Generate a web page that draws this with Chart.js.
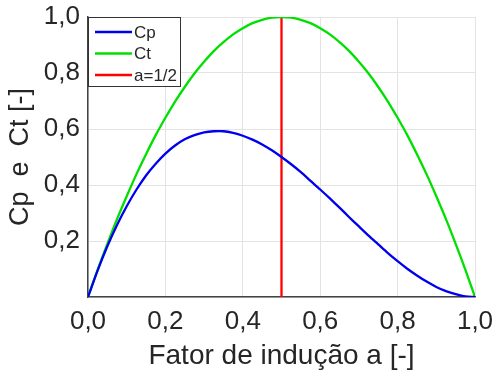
<!DOCTYPE html>
<html>
<head>
<meta charset="utf-8">
<script src="https://cdn.jsdelivr.net/npm/chart.js@4.4.1/dist/chart.umd.min.js"></script>
<style>
  html, body { margin: 0; padding: 0; background: #fff; }
  #wrap { width: 495px; height: 373px; }
</style>
</head>
<body>
<div id="wrap"><canvas id="cpct" width="495" height="373"></canvas></div>
<script>
// values
const aValues = [0, 0.025, 0.05, 0.075, 0.1, 0.125, 0.15, 0.175, 0.2, 0.225, 0.25,
  0.275, 0.3, 0.325, 0.35, 0.375, 0.4, 0.425, 0.45, 0.475, 0.5,
  0.525, 0.55, 0.575, 0.6, 0.625, 0.65, 0.675, 0.7, 0.725, 0.75,
  0.775, 0.8, 0.825, 0.85, 0.875, 0.9, 0.925, 0.95, 0.975, 1];
const cpValues = [0, 0.095, 0.181, 0.257, 0.324, 0.383, 0.434, 0.476, 0.512, 0.541, 0.563,
  0.578, 0.588, 0.592, 0.592, 0.586, 0.576, 0.562, 0.545, 0.524, 0.5,
  0.474, 0.446, 0.415, 0.384, 0.352, 0.319, 0.285, 0.252, 0.219, 0.188,
  0.157, 0.128, 0.101, 0.077, 0.055, 0.036, 0.021, 0.01, 0.002, 0];
const ctValues = [0, 0.098, 0.19, 0.278, 0.36, 0.438, 0.51, 0.578, 0.64, 0.698, 0.75,
  0.798, 0.84, 0.878, 0.91, 0.938, 0.96, 0.978, 0.99, 0.998, 1,
  0.998, 0.99, 0.978, 0.96, 0.938, 0.91, 0.878, 0.84, 0.798, 0.75,
  0.698, 0.64, 0.578, 0.51, 0.438, 0.36, 0.278, 0.19, 0.098, 0];
const aHalfX = [0.5, 0.5];
const aHalfY = [0, 1];

const seriesLabels = ["Cp", "Ct", "a=1/2"];
const xTickLabels = ["0,0", "0,2", "0,4", "0,6", "0,8", "1,0"];
const yTickLabels = ["", "0,2", "0,4", "0,6", "0,8", "1,0"];

const toPoints = (xs, ys) => xs.map((x, i) => ({ x: x, y: ys[i] }));

const FONT = "Arial, 'Liberation Sans', sans-serif";

// keep the plot box where the layout padding puts it
function noScalePadding(scale) {
  scale.paddingLeft = 0;
  scale.paddingRight = 0;
  scale.paddingTop = 0;
  scale.paddingBottom = 0;
}

// legend box drawn inside the plot, top-left corner
const boxLegend = {
  id: "boxLegend",
  afterDraw(chart) {
    const ctx = chart.ctx;
    const area = chart.chartArea;
    const x0 = area.left, y0 = area.top;
    ctx.save();
    ctx.fillStyle = "#ffffff";
    ctx.fillRect(x0, y0, 93, 70);
    ctx.strokeStyle = "#333333";
    ctx.lineWidth = 1;
    ctx.strokeRect(x0 + 0.5, y0 + 0.5, 92, 69);
    ctx.font = "17px " + FONT;
    ctx.textBaseline = "middle";
    chart.data.datasets.forEach((ds, i) => {
      const y = y0 + 15 + i * 21.5;
      ctx.strokeStyle = ds.borderColor;
      ctx.lineWidth = 2.5;
      ctx.beginPath();
      ctx.moveTo(x0 + 7, y);
      ctx.lineTo(x0 + 44, y);
      ctx.stroke();
      ctx.fillStyle = "#262626";
      ctx.fillText(ds.label, x0 + 46, y + 1);
    });
    ctx.restore();
  }
};

new Chart(document.getElementById("cpct").getContext("2d"), {
  type: "line",
  data: {
    datasets: [
      {
        label: seriesLabels[0],
        data: toPoints(aValues, cpValues),
        borderColor: "#0000ee",
        borderWidth: 2.3,
        pointRadius: 0,
        tension: 0.3,
      },
      {
        label: seriesLabels[1],
        data: toPoints(aValues, ctValues),
        borderColor: "#00e000",
        borderWidth: 2.3,
        pointRadius: 0,
        tension: 0.3,
      },
      {
        label: seriesLabels[2],
        data: toPoints(aHalfX, aHalfY),
        borderColor: "#ff0000",
        borderWidth: 2.3,
        pointRadius: 0,
      },
    ],
  },
  options: {
    responsive: false,
    animation: false,
    layout: { padding: { top: 17, right: 20, left: 0, bottom: 0 } },
    plugins: { legend: { display: false }, tooltip: { enabled: false } },
    scales: {
      x: {
        type: "linear",
        min: 0,
        max: 1,
        afterFit: (scale) => { scale.height = 76; noScalePadding(scale); },
        ticks: {
          stepSize: 0.2,
          padding: 9,
          color: "#262626",
          font: { family: FONT, size: 26 },
          maxRotation: 0,
          callback: (v, i) => xTickLabels[i],
        },
        grid: { color: "#e3e3e3", drawTicks: false },
        border: { color: "#444444", width: 1.5 },
        title: {
          display: true,
          text: "Fator de indução a [-]",
          color: "#262626",
          font: { family: FONT, size: 28 },
          padding: { top: 0, bottom: 0 },
        },
      },
      y: {
        min: 0,
        max: 1,
        afterFit: (scale) => { scale.width = 88; noScalePadding(scale); },
        ticks: {
          stepSize: 0.2,
          padding: 8,
          color: "#262626",
          font: { family: FONT, size: 26 },
          callback: (v, i) => yTickLabels[i],
        },
        grid: { color: "#e3e3e3", drawTicks: false },
        border: { color: "#444444", width: 1.5 },
        title: {
          display: true,
          text: "Cp  e  Ct [-]",
          color: "#262626",
          font: { family: FONT, size: 27 },
          padding: { top: 4, bottom: 0 },
        },
      },
    },
  },
  plugins: [boxLegend],
});
</script>
</body>
</html>
